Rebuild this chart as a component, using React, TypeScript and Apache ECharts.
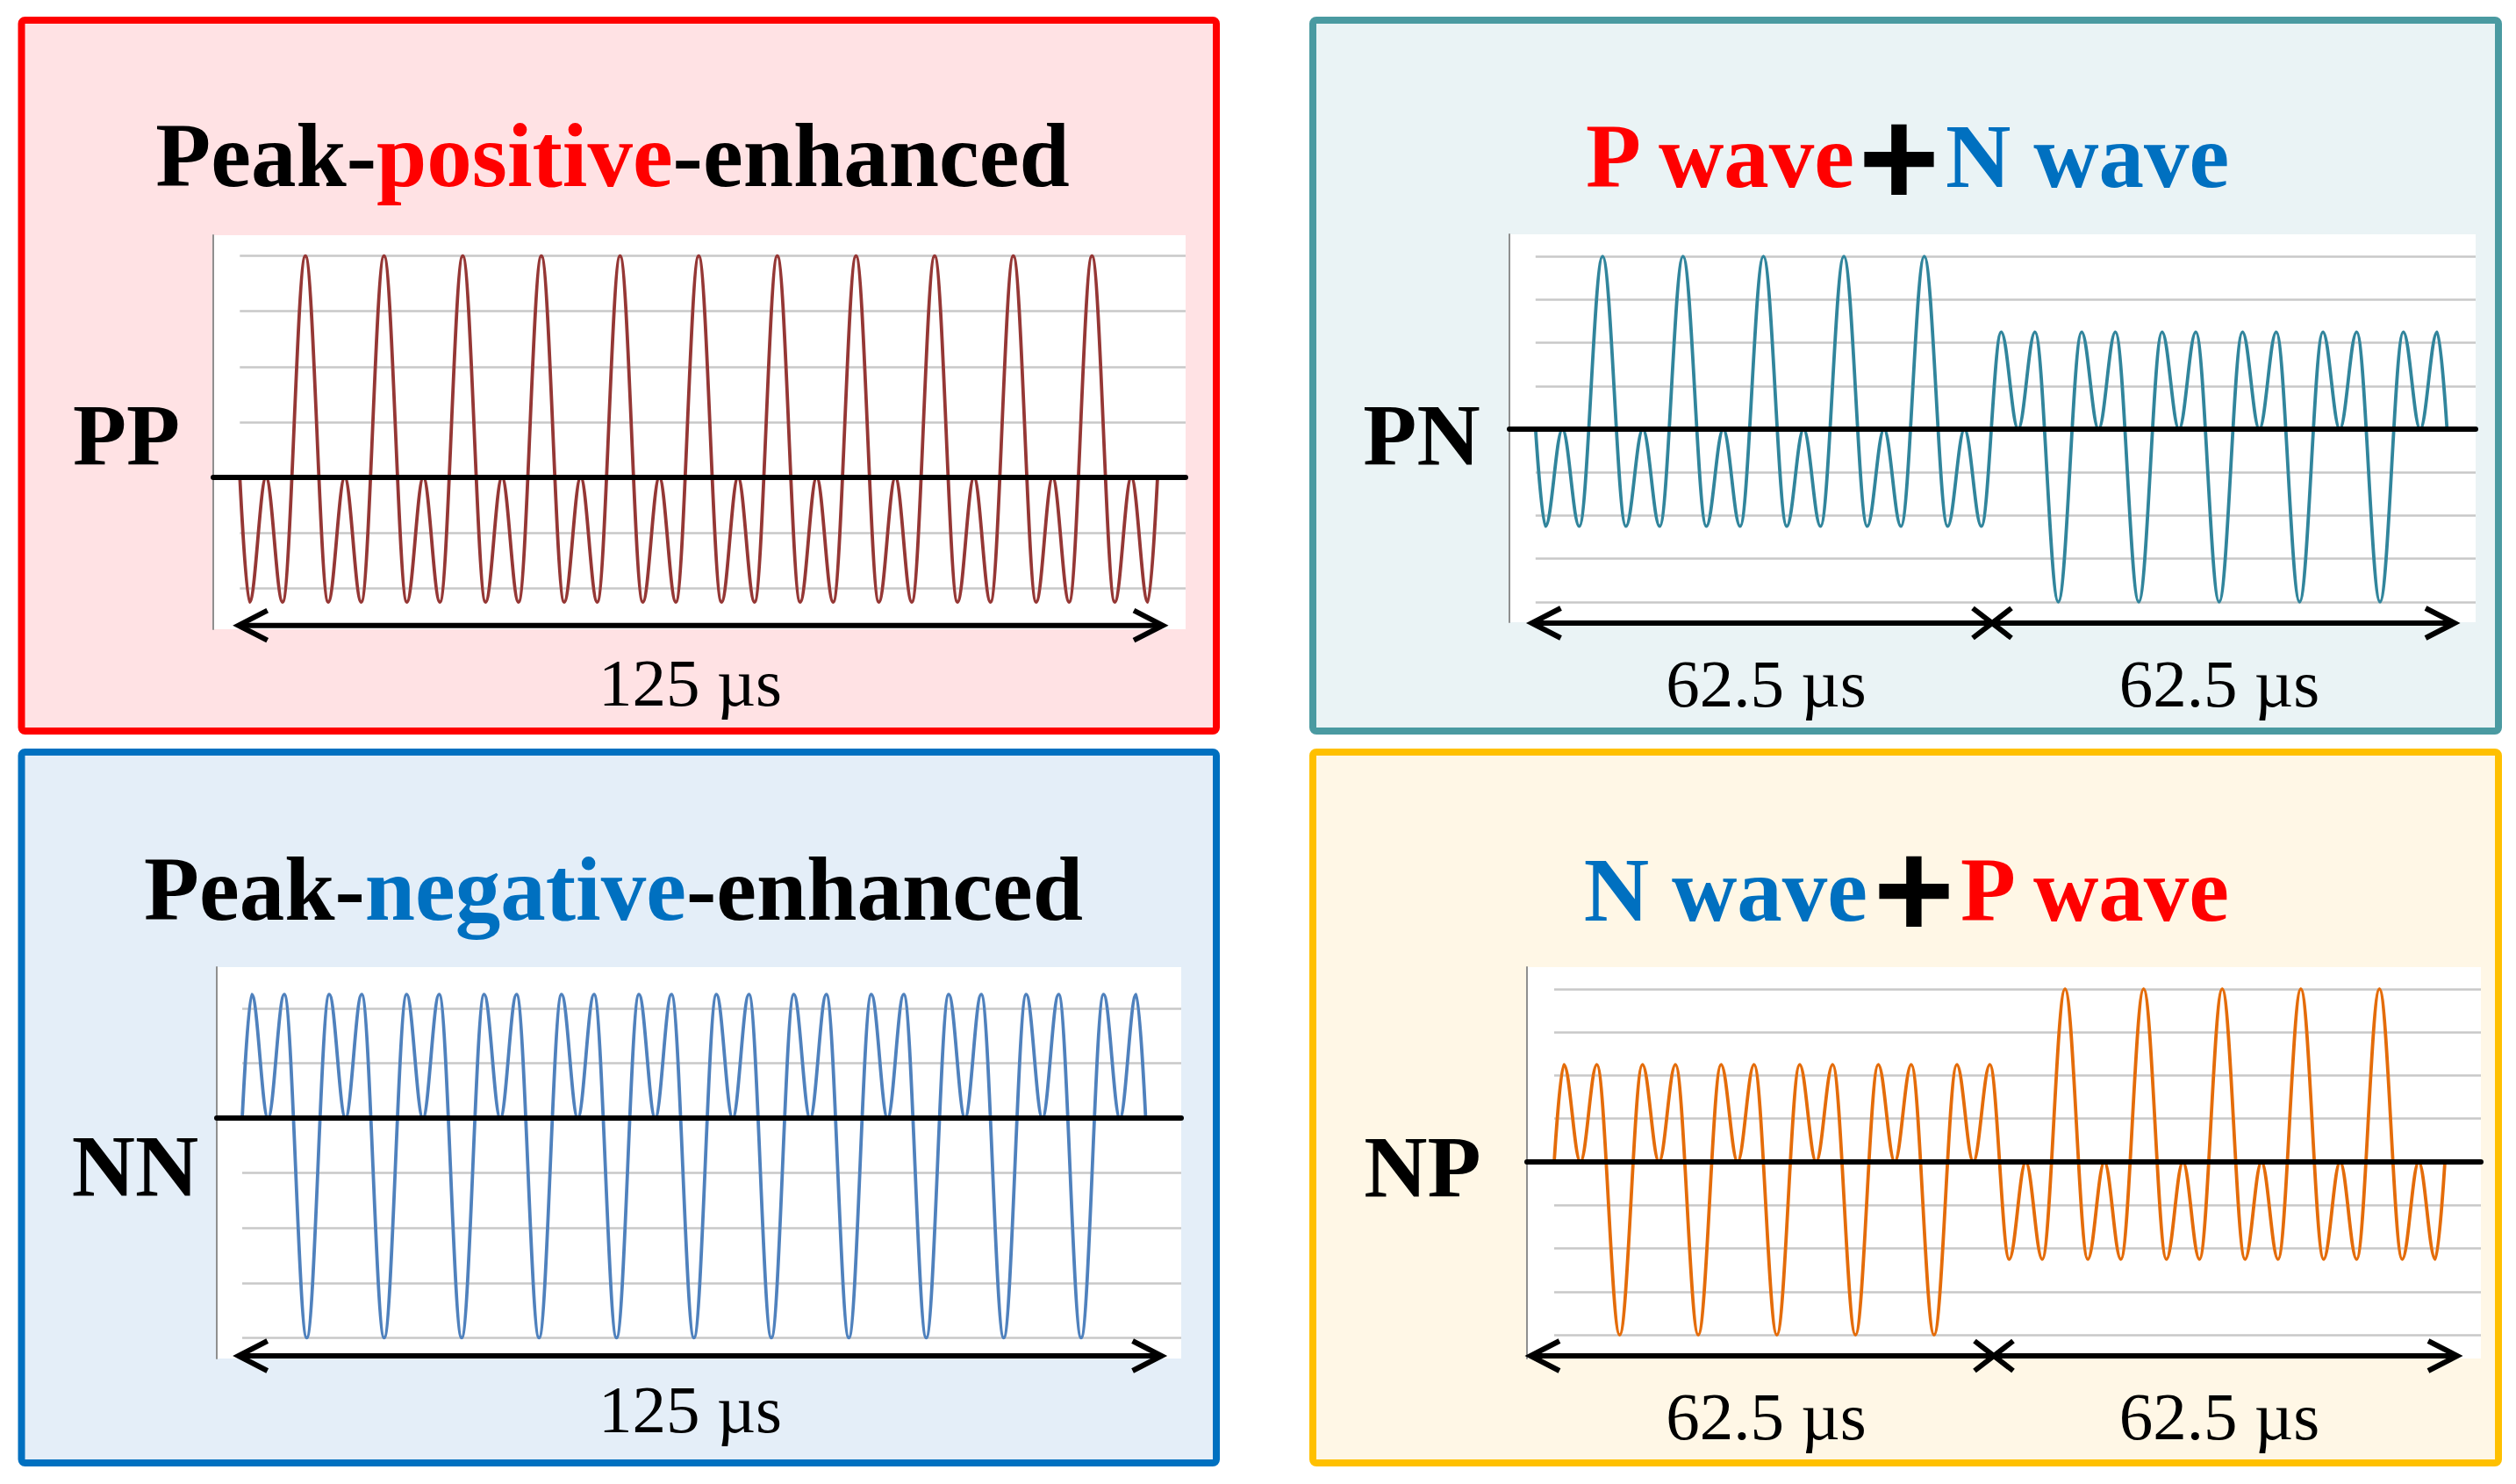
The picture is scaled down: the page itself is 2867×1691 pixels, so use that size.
import React, { useEffect, useRef } from 'react';
import * as echarts from 'echarts';

// ---------- data (µs, amplitude in grid units) ----------
// extrema + zero crossings of the 125 µs single-mode waveforms (PP / NN)
const fullTime = [
  0,
  1.32, 3.57, 5.82, 8.93,
  12.04, 14.29, 16.53, 19.64,
  22.75, 25.0, 27.25, 30.36,
  33.47, 35.71, 37.96, 41.07,
  44.18, 46.43, 48.68, 51.79,
  54.89, 57.14, 59.39, 62.5,
  65.61, 67.86, 70.11, 73.21,
  76.32, 78.57, 80.82, 83.93,
  87.04, 89.29, 91.53, 94.64,
  97.75, 100.0, 102.25, 105.36,
  108.47, 110.71, 112.96, 116.07,
  119.18, 121.43, 123.68, 125.0,
];
const ppAmp = [
  0,
  -2.25, 0, -2.25, 4,
  -2.25, 0, -2.25, 4,
  -2.25, 0, -2.25, 4,
  -2.25, 0, -2.25, 4,
  -2.25, 0, -2.25, 4,
  -2.25, 0, -2.25, 4,
  -2.25, 0, -2.25, 4,
  -2.25, 0, -2.25, 4,
  -2.25, 0, -2.25, 4,
  -2.25, 0, -2.25, 4,
  -2.25, 0, -2.25, 4,
  -2.25, 0, -2.25, 0,
];
const nnAmp = [
  0,
  2.25, 0, 2.25, -4,
  2.25, 0, 2.25, -4,
  2.25, 0, 2.25, -4,
  2.25, 0, 2.25, -4,
  2.25, 0, 2.25, -4,
  2.25, 0, 2.25, -4,
  2.25, 0, 2.25, -4,
  2.25, 0, 2.25, -4,
  2.25, 0, 2.25, -4,
  2.25, 0, 2.25, -4,
  2.25, 0, 2.25, -4,
  2.25, 0, 2.25, 0,
];
// extrema of the split waveforms (62.5 µs + 62.5 µs)
const splitTime = [
  0,
  1.36, 3.68, 5.99, 9.19,
  12.39, 14.71, 17.02, 20.22,
  23.42, 25.74, 28.05, 31.25,
  34.45, 36.76, 39.08, 42.28,
  45.48, 47.79, 50.11, 53.31,
  56.51, 58.82, 61.14,
  63.86, 66.18, 68.49, 71.69,
  74.89, 77.21, 79.52, 82.72,
  85.92, 88.24, 90.55, 93.75,
  96.95, 99.26, 101.58, 104.78,
  107.98, 110.29, 112.61, 115.81,
  119.01, 121.32, 123.64, 125.0,
];
const pnAmp = [
  0,
  -2.25, 0, -2.25, 4,
  -2.25, 0, -2.25, 4,
  -2.25, 0, -2.25, 4,
  -2.25, 0, -2.25, 4,
  -2.25, 0, -2.25, 4,
  -2.25, 0, -2.25,
  2.25, 0, 2.25, -4,
  2.25, 0, 2.25, -4,
  2.25, 0, 2.25, -4,
  2.25, 0, 2.25, -4,
  2.25, 0, 2.25, -4,
  2.25, 0, 2.25, 0,
];
const npAmp = [
  0,
  2.25, 0, 2.25, -4,
  2.25, 0, 2.25, -4,
  2.25, 0, 2.25, -4,
  2.25, 0, 2.25, -4,
  2.25, 0, 2.25, -4,
  2.25, 0, 2.25,
  -2.25, 0, -2.25, 4,
  -2.25, 0, -2.25, 4,
  -2.25, 0, -2.25, 4,
  -2.25, 0, -2.25, 4,
  -2.25, 0, -2.25, 4,
  -2.25, 0, -2.25, 0,
];
const panelCodes = ['PP', 'PN', 'NN', 'NP'];
const fullLabel = '125 µs';
const halfLabel = '62.5 µs';
const TOTAL_US = 125;

// ---------- layout ----------
const SERIF = "'Liberation Serif', 'Times New Roman', Times, serif";
const SANS = "'Liberation Sans', Arial, sans-serif";

const panels = [
  { time: fullTime, amp: ppAmp, color: '#953735', frame: [243, 268, 1351, 717], zeroY: 544, unit: 63.1, yTop: 4, yBottom: -2, waveStart: 273.3, waveEnd: 1319 },
  { time: splitTime, amp: pnAmp, color: '#31859C', frame: [1720, 267, 2821, 709], zeroY: 489, unit: 49.2, yTop: 4, yBottom: -4, waveStart: 1749.8, waveEnd: 2788.4 },
  { time: fullTime, amp: nnAmp, color: '#4F81BD', frame: [247, 1102, 1346, 1548], zeroY: 1274, unit: 62.6, yTop: 2, yBottom: -4, waveStart: 276, waveEnd: 1305.5 },
  { time: splitTime, amp: npAmp, color: '#E46C0A', frame: [1740, 1102, 2827, 1548], zeroY: 1324, unit: 49.3, yTop: 4, yBottom: -4, waveStart: 1771, waveEnd: 2786 },
];

const boxes = [
  { x: 24.5, y: 23, w: 1361.5, h: 810, fill: '#FFE2E4', stroke: '#FF0000' },
  { x: 1496, y: 23, w: 1351, h: 810, fill: '#EAF3F5', stroke: '#4A9AA1' },
  { x: 24.5, y: 857, w: 1361.5, h: 810, fill: '#E4EEF8', stroke: '#0070C0' },
  { x: 1496, y: 857, w: 1351, h: 810, fill: '#FFF7E6', stroke: '#FFC000' },
];

const codePos = [[144, 495], [1620, 495], [154, 1328], [1621, 1329]];

const arrows = [
  { y: 712.7, x0: 271.7, x1: 1325, cross: null as number | null },
  { y: 710, x0: 1745.5, x1: 2797, cross: 2270 },
  { y: 1545, x0: 271.7, x1: 1323.6, cross: null as number | null },
  { y: 1545, x0: 1744, x1: 2800, cross: 2272 },
];

function arrowEls(a: { y: number; x0: number; x1: number; cross: number | null }) {
  const st = { stroke: '#000', lineWidth: 6, fill: null as any, lineJoin: 'miter' as const };
  const els: any[] = [
    { type: 'line', z: 20, shape: { x1: a.x0 + 2, y1: a.y, x2: a.x1 - 2, y2: a.y }, style: st },
    { type: 'polyline', z: 20, shape: { points: [[a.x0 + 33, a.y - 17], [a.x0, a.y], [a.x0 + 33, a.y + 17]] }, style: st },
    { type: 'polyline', z: 20, shape: { points: [[a.x1 - 33, a.y - 17], [a.x1, a.y], [a.x1 - 33, a.y + 17]] }, style: st },
  ];
  if (a.cross != null) {
    els.push({ type: 'line', z: 20, shape: { x1: a.cross - 22, y1: a.y - 17, x2: a.cross + 22, y2: a.y + 17 }, style: st });
    els.push({ type: 'line', z: 20, shape: { x1: a.cross - 22, y1: a.y + 17, x2: a.cross + 22, y2: a.y - 17 }, style: st });
  }
  return els;
}

function txt(text: string, x: number, y: number, size: number, fill: string, align: string, bold = true, family = SERIF) {
  return {
    type: 'text', x, y, z: 20,
    style: { text, fill, fontSize: size, fontWeight: bold ? 'bold' : 'normal', fontFamily: family, align, verticalAlign: 'middle' },
  };
}

function buildOption() {
  const grid: any[] = [];
  const xAxis: any[] = [];
  const yAxis: any[] = [];
  const series: any[] = [];
  panels.forEach((p, i) => {
    const [l, t, r, b] = p.frame;
    // frame grid (white plot area, y axis line, zero line)
    grid.push({ left: l, top: t, width: r - l, height: b - t, show: true, backgroundColor: '#ffffff', borderWidth: 0 });
    xAxis.push({
      type: 'value', gridIndex: 2 * i, min: 0, max: 1, z: 5,
      axisLine: { show: true, onZero: true, lineStyle: { color: '#000', width: 6 } },
      axisTick: { show: false }, axisLabel: { show: false }, splitLine: { show: false },
    });
    yAxis.push({
      type: 'value', gridIndex: 2 * i, min: -(b - p.zeroY) / p.unit, max: (p.zeroY - t) / p.unit,
      axisLine: { show: true, onZero: false, lineStyle: { color: '#8f8f8f', width: 2 } },
      axisTick: { show: false }, axisLabel: { show: false }, splitLine: { show: false },
    });
    // wave grid (gridlines + waveform)
    const top = p.zeroY - p.yTop * p.unit;
    grid.push({ left: p.waveStart, top, width: r - p.waveStart, height: (p.yTop - p.yBottom) * p.unit, show: false });
    xAxis.push({
      type: 'value', gridIndex: 2 * i + 1, min: 0,
      max: (TOTAL_US * (r - p.waveStart)) / (p.waveEnd - p.waveStart),
      show: false,
    });
    yAxis.push({
      type: 'value', gridIndex: 2 * i + 1, min: p.yBottom, max: p.yTop, interval: 1,
      axisLine: { show: false }, axisTick: { show: false }, axisLabel: { show: false },
      splitLine: { show: true, lineStyle: { color: '#c8c8c8', width: 2.5 } },
    });
    series.push({
      type: 'line', name: panelCodes[i], xAxisIndex: 2 * i + 1, yAxisIndex: 2 * i + 1,
      data: p.time.map((tt, j) => [tt, p.amp[j]]),
      showSymbol: false, symbol: 'none', smooth: 0.36, smoothMonotone: 'x', clip: false, z: 3,
      lineStyle: { color: p.color, width: 3.8 },
    });
  });

  const elements: any[] = [];
  boxes.forEach((bx) => {
    elements.push({ type: 'rect', z: -10, shape: { x: bx.x, y: bx.y, width: bx.w, height: bx.h, r: 4 }, style: { fill: bx.fill, stroke: bx.stroke, lineWidth: 8 } });
  });
  const tok = (c: string) => ({ fill: c, fontSize: 103, fontWeight: 'bold', fontFamily: SERIF });
  elements.push({
    type: 'text', x: 698, y: 177, z: 20,
    style: { text: '{k|Peak-}{r|positive}{k|-enhanced}', rich: { k: tok('#000000'), r: tok('#FF0000') }, align: 'center', verticalAlign: 'middle' },
  });
  elements.push({
    type: 'text', x: 699, y: 1013, z: 20,
    style: { text: '{k|Peak-}{b|negative}{k|-enhanced}', rich: { k: tok('#000000'), b: tok('#0070C0') }, align: 'center', verticalAlign: 'middle' },
  });
  elements.push(txt('P wave', 2113, 178, 103, '#FF0000', 'right'));
  elements.push(txt('+', 2164, 179, 158, '#000000', 'center', true, SANS));
  elements.push(txt('N wave', 2217, 178, 103, '#0070C0', 'left'));
  elements.push(txt('N wave', 2128, 1014, 103, '#0070C0', 'right'));
  elements.push(txt('+', 2181, 1013, 158, '#000000', 'center', true, SANS));
  elements.push(txt('P wave', 2234, 1014, 103, '#FF0000', 'left'));

  panelCodes.forEach((c, i) => elements.push(txt(c, codePos[i][0], codePos[i][1], 100, '#000000', 'center')));

  elements.push(txt(fullLabel, 786.5, 778, 77, '#000000', 'center', false));
  elements.push(txt(fullLabel, 786.5, 1606, 77, '#000000', 'center', false));
  elements.push(txt(halfLabel, 2012.5, 779, 77, '#000000', 'center', false));
  elements.push(txt(halfLabel, 2529, 779, 77, '#000000', 'center', false));
  elements.push(txt(halfLabel, 2012.5, 1614, 77, '#000000', 'center', false));
  elements.push(txt(halfLabel, 2529, 1614, 77, '#000000', 'center', false));

  arrows.forEach((a) => elements.push(...arrowEls(a)));

  return {
    animation: false,
    backgroundColor: '#ffffff',
    grid, xAxis, yAxis, series,
    graphic: { elements },
  };
}

export default function App() {
  const ref = useRef<HTMLDivElement>(null);
  useEffect(() => {
    if (!ref.current) return;
    const chart = echarts.init(ref.current, undefined, { renderer: 'svg' });
    chart.setOption(buildOption() as any);
    return () => chart.dispose();
  }, []);
  return (
    <div
      ref={ref}
      style={{ position: 'fixed', left: 0, top: 0, width: 2867, height: 1691, background: '#ffffff' }}
    />
  );
}
